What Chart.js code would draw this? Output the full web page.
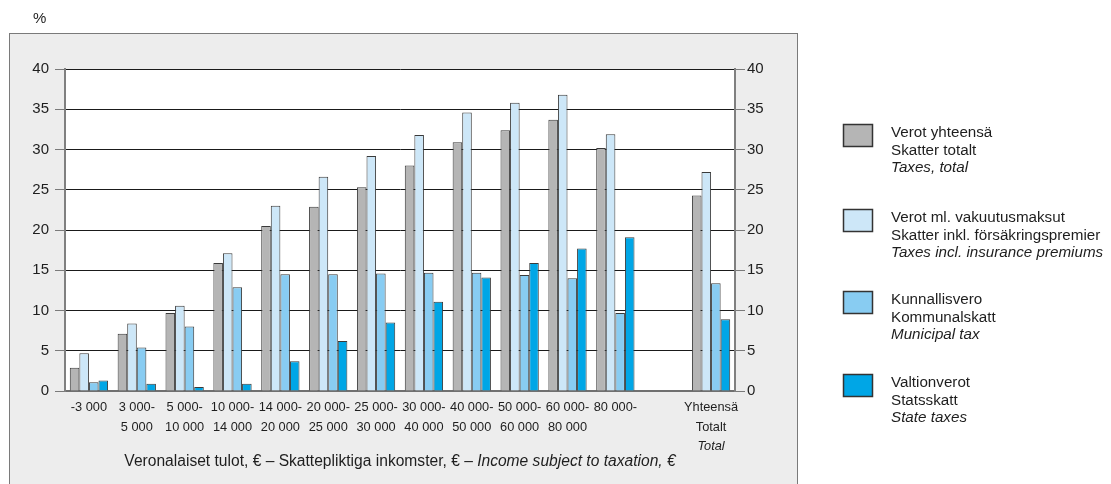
<!DOCTYPE html>
<html>
<head>
<meta charset="utf-8">
<script src="https://cdn.jsdelivr.net/npm/chart.js@4/dist/chart.umd.min.js"></script>
<style>
html,body{margin:0;padding:0;background:#fff;}
canvas{display:block;}
</style>
</head>
<body>
<canvas id="c" width="1111" height="484"></canvas>
<script>
// ---- data ----
const categories = [
  ["-3 000"], ["3 000-","5 000"], ["5 000-","10 000"], ["10 000-","14 000"],
  ["14 000-","20 000"], ["20 000-","25 000"], ["25 000-","30 000"], ["30 000-","40 000"],
  ["40 000-","50 000"], ["50 000-","60 000"], ["60 000-","80 000"], ["80 000-"],
  [], ["Yhteensä","Totalt","Total"]
];
const taxesTotal     = [2.9, 7.1, 9.7, 15.9, 20.5, 22.9, 25.3, 28.0, 30.9, 32.4, 33.7, 30.2, null, 24.3];
const taxesInclIns   = [4.7, 8.4, 10.6, 17.1, 23.0, 26.6, 29.2, 31.8, 34.6, 35.8, 36.8, 31.9, null, 27.2];
const municipalTax   = [1.1, 5.4, 8.0, 12.9, 14.5, 14.5, 14.6, 14.7, 14.7, 14.4, 14.0, 9.7, null, 13.4];
const stateTaxes     = [1.3, 0.9, 0.5, 0.9, 3.7, 6.2, 8.5, 11.1, 14.1, 15.9, 17.7, 19.1, null, 8.9];
const yTicks = [0, 5, 10, 15, 20, 25, 30, 35, 40];
const legendFi = ["Verot yhteensä", "Verot ml. vakuutusmaksut", "Kunnallisvero", "Valtionverot"];
const legendSv = ["Skatter totalt", "Skatter inkl. försäkringspremier", "Kommunalskatt", "Statsskatt"];
const legendEn = ["Taxes, total", "Taxes incl. insurance premiums", "Municipal tax", "State taxes"];
const unitLabel = "%";
const axisTitleParts = ["Veronalaiset tulot, € – Skattepliktiga inkomster, € – ", "Income subject to taxation, €"];

// ---- styles ----
const colors = ["#b5b5b5", "#cde7f8", "#88ccf2", "#00a6e6"];
const FONT = "'Liberation Sans', Arial, sans-serif";
const TXT = "#1e1e1e";

const series = [taxesTotal, taxesInclIns, municipalTax, stateTaxes];

const decor = {
  id: 'decor',
  beforeDraw(chart) {
    const ctx = chart.ctx, a = chart.chartArea;
    ctx.save();
    ctx.fillStyle = '#fff';
    ctx.fillRect(0, 0, chart.width, chart.height);
    ctx.fillStyle = '#ededed';
    ctx.fillRect(9, 33, 788, 460);
    ctx.strokeStyle = '#7a7a7a';
    ctx.lineWidth = 1;
    ctx.strokeRect(9.5, 33.5, 788, 460);
    ctx.fillStyle = '#fff';
    ctx.fillRect(a.left, a.top, a.right - a.left, a.bottom - a.top);
    ctx.fillStyle = TXT;
    ctx.font = "15px " + FONT;
    ctx.textBaseline = 'middle';
    ctx.textAlign = 'left';
    ctx.fillText(unitLabel, 33, 19);
    ctx.restore();
  },
  afterDraw(chart) {
    const ctx = chart.ctx, x = chart.scales.x;
    ctx.save();
    ctx.fillStyle = TXT;
    ctx.textBaseline = 'middle';
    ctx.textAlign = 'center';
    const lineY = [407, 427, 446];
    categories.forEach((lines, i) => {
      const px = x.getPixelForValue(i);
      lines.forEach((t, j) => {
        ctx.font = (j === 2 ? "italic " : "") + "12.8px " + FONT;
        ctx.fillText(t, px, lineY[j]);
      });
    });
    // axis title
    const TF = "15.6px " + FONT;
    ctx.font = TF;
    const w1 = ctx.measureText(axisTitleParts[0]).width;
    ctx.font = "italic " + TF;
    const w2 = ctx.measureText(axisTitleParts[1]).width;
    const cx = (chart.chartArea.left + chart.chartArea.right) / 2;
    let sx = cx - (w1 + w2) / 2;
    ctx.textAlign = 'left';
    ctx.font = TF;
    ctx.fillText(axisTitleParts[0], sx, 462);
    ctx.font = "italic " + TF;
    ctx.fillText(axisTitleParts[1], sx + w1, 462);
    // legend
    const tops = [124, 209, 291, 374];
    ctx.textBaseline = 'middle';
    chart.data.datasets.forEach((ds, i) => {
      const t = tops[i];
      ctx.fillStyle = ds.backgroundColor;
      ctx.fillRect(843.5, t + 0.5, 29, 22);
      ctx.strokeStyle = '#333';
      ctx.lineWidth = 1.5;
      ctx.strokeRect(843.5, t + 0.5, 29, 22);
      ctx.fillStyle = TXT;
      ctx.font = "15.2px " + FONT;
      ctx.fillText(legendFi[i], 891, t + 9);
      ctx.fillText(legendSv[i], 891, t + 26.5);
      ctx.font = "italic 15.2px " + FONT;
      ctx.fillText(legendEn[i], 891, t + 44);
    });
    ctx.restore();
  }
};

const yTickCb = (v) => yTicks.includes(v) ? String(v) : '';

new Chart(document.getElementById('c'), {
  type: 'bar',
  data: {
    labels: categories.map(l => l.join(' ')),
    datasets: series.map((d, i) => ({
      label: legendFi[i] + ' / ' + legendSv[i] + ' / ' + legendEn[i],
      data: d,
      backgroundColor: colors[i],
      borderColor: '#3a3a3a',
      borderWidth: 1,
      categoryPercentage: 0.80,
      barPercentage: 1.0
    }))
  },
  options: {
    responsive: false,
    animation: false,
    layout: { padding: { left: 0, top: 69, right: 331, bottom: 0 } },
    plugins: { legend: { display: false }, tooltip: { enabled: false } },
    scales: {
      x: {
        grid: { display: false, drawTicks: false },
        border: { display: true, color: '#707070', width: 2 },
        ticks: { display: false },
        afterFit(s) { s.height = 93; }
      },
      y: {
        min: 0, max: 40,
        position: 'left',
        afterFit(s) { s.width = 65; },
        ticks: { stepSize: 5, padding: 6, color: TXT, font: { family: FONT, size: 15 }, callback: yTickCb },
        grid: {
          color: (c) => c.tick && c.tick.value === 0 ? 'rgba(0,0,0,0)' : '#1a1a1a',
          lineWidth: 1,
          tickColor: '#7a7a7a',
          tickLength: 10
        },
        border: { color: '#808080', width: 2 }
      },
      y2: {
        min: 0, max: 40,
        position: 'right',
        afterFit(s) { s.width = 45; },
        ticks: { stepSize: 5, padding: 2, color: TXT, font: { family: FONT, size: 15 }, callback: yTickCb },
        grid: { drawOnChartArea: false, tickColor: '#7a7a7a', tickLength: 10 },
        border: { color: '#808080', width: 2 }
      }
    }
  },
  plugins: [decor]
});
</script>
</body>
</html>
